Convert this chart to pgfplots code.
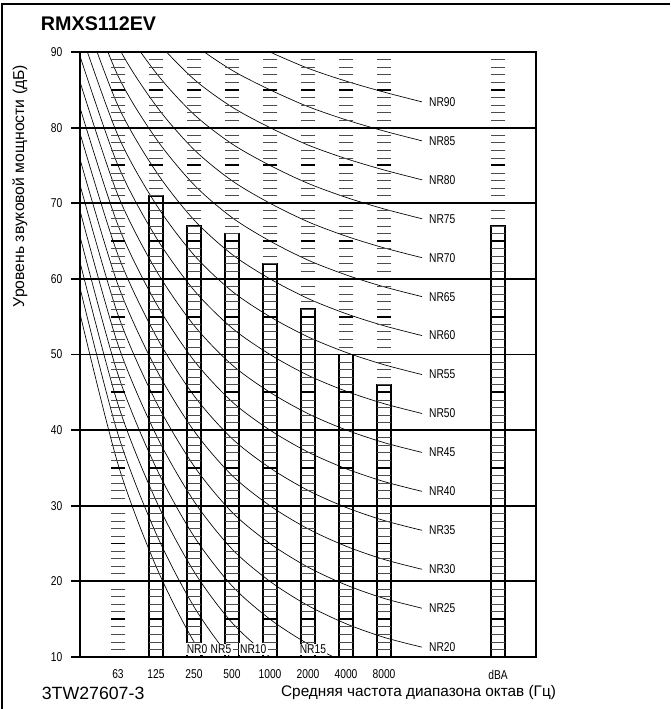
\documentclass[border=0pt]{standalone}
\usepackage{pgfplots}
\pgfplotsset{compat=1.18}
\usepackage{pgfplotstable}
\usepackage{fontspec}
\setmainfont{Liberation Sans}
\newfontfamily\condfont[FakeStretch=0.8]{Liberation Sans}

% ladder dashes (1 dB steps) and thick 5 dB dashes
\pgfplotstableread[row sep=\\]{
y\\11\\12\\13\\14\\16\\17\\18\\19\\21\\22\\23\\24\\26\\27\\28\\29\\31\\32\\33\\34\\36\\37\\38\\39\\
41\\42\\43\\44\\46\\47\\48\\49\\51\\52\\53\\54\\56\\57\\58\\59\\61\\62\\63\\64\\66\\67\\68\\69\\
71\\72\\73\\74\\76\\77\\78\\79\\81\\82\\83\\84\\86\\87\\88\\89\\
}\thinladder
\pgfplotstableread[row sep=\\]{
y\\15\\25\\35\\45\\55\\65\\75\\85\\
}\thickladder

\tikzset{
  nrlab/.style={font=\condfont\fontsize{9.6}{11}\selectfont, inner sep=1pt},
}
\pgfplotsset{
  nrcurve/.style={black, line width=0.5pt, smooth, tension=0.5, forget plot},
}

\begin{document}
\begin{tikzpicture}
\useasboundingbox (0,0) rectangle (502.5pt,531.75pt);
\draw[line width=1.9pt] (1.4pt,0) -- (1.4pt,528.9pt) -- (502.5pt,528.9pt);

\begin{axis}[
  at={(60pt,39pt)}, anchor=south west,
  scale only axis, width=342pt, height=453.75pt,
  xmin=-1, xmax=11, ymin=10, ymax=90,
  xtick={0,1,2,3,4,5,6,7,10},
  xticklabels={63,125,250,500,1000,2000,4000,8000,dBA},
  ytick={10,20,30,40,50,60,70,80,90},
  yticklabels={10,20,30,40,50,60,70,80,90},
  /pgf/number format/assume math mode=true,
  ymajorgrids, grid style={black, line width=1.4pt},
  axis line style={black, line width=1.5pt},
  tick align=outside, tick pos=left, major tick length=6.75pt,
  ytick style={black, line width=1.4pt},
  xtick style={draw=none},
  xticklabel style={font=\condfont\fontsize{9.6}{11}\selectfont, yshift=0.5pt},
  yticklabel style={font=\condfont\fontsize{9.6}{11}\selectfont, xshift=-3pt},
  clip=true,
]
% ladders
\pgfplotsinvokeforeach{0,1,2,3,4,5,6,7,10}{
  \addplot[only marks, mark=-, mark size=5.6pt, mark options={line width=0.55pt, black!70}, forget plot] table[x expr=#1, y=y] {\thinladder};
  \addplot[only marks, mark=-, mark size=5.6pt, mark options={line width=1.4pt, black}, forget plot] table[x expr=#1, y=y] {\thickladder};
}

% NR curves (31.5 Hz ... 16 kHz at -1 ... 8)
\addplot[nrcurve] coordinates {(-1,55.4)(0,35.5)(1,22.0)(2,12.0)(3,4.8)(4,0)(5,-3.5)(6,-6.1)(7,-8.0)(8,-9.3)};
\addplot[nrcurve] coordinates {(-1,58.8)(0,39.45)(1,26.35)(2,16.65)(3,9.67)(4,5)(5,1.58)(6,-0.98)(7,-2.85)(8,-4.15)};
\addplot[nrcurve] coordinates {(-1,62.21)(0,43.4)(1,30.7)(2,21.3)(3,14.54)(4,10)(5,6.65)(6,4.15)(7,2.3)(8,1.0)};
\addplot[nrcurve] coordinates {(-1,65.62)(0,47.35)(1,35.05)(2,25.95)(3,19.41)(4,15)(5,11.73)(6,9.28)(7,7.45)(8,6.15)};
\addplot[nrcurve] coordinates {(-1,69.02)(0,51.3)(1,39.4)(2,30.6)(3,24.28)(4,20)(5,16.8)(6,14.4)(7,12.6)(8,11.3)};
\addplot[nrcurve] coordinates {(-1,72.43)(0,55.25)(1,43.75)(2,35.25)(3,29.15)(4,25)(5,21.88)(6,19.53)(7,17.75)(8,16.45)};
\addplot[nrcurve] coordinates {(-1,75.83)(0,59.2)(1,48.1)(2,39.9)(3,34.02)(4,30)(5,26.95)(6,24.65)(7,22.9)(8,21.6)};
\addplot[nrcurve] coordinates {(-1,79.24)(0,63.15)(1,52.45)(2,44.55)(3,38.89)(4,35)(5,32.03)(6,29.78)(7,28.05)(8,26.75)};
\addplot[nrcurve] coordinates {(-1,82.64)(0,67.1)(1,56.8)(2,49.2)(3,43.76)(4,40)(5,37.1)(6,34.9)(7,33.2)(8,31.9)};
\addplot[nrcurve] coordinates {(-1,86.05)(0,71.05)(1,61.15)(2,53.85)(3,48.63)(4,45)(5,42.18)(6,40.03)(7,38.35)(8,37.05)};
\addplot[nrcurve] coordinates {(-1,89.45)(0,75.0)(1,65.5)(2,58.5)(3,53.5)(4,50)(5,47.25)(6,45.15)(7,43.5)(8,42.2)};
\addplot[nrcurve] coordinates {(-1,92.86)(0,78.95)(1,69.85)(2,63.15)(3,58.37)(4,55)(5,52.33)(6,50.28)(7,48.65)(8,47.35)};
\addplot[nrcurve] coordinates {(-1,96.26)(0,82.9)(1,74.2)(2,67.8)(3,63.24)(4,60)(5,57.4)(6,55.4)(7,53.8)(8,52.5)};
\addplot[nrcurve] coordinates {(-1,99.67)(0,86.85)(1,78.55)(2,72.45)(3,68.11)(4,65)(5,62.48)(6,60.53)(7,58.95)(8,57.65)};
\addplot[nrcurve] coordinates {(-1,103.07)(0,90.8)(1,82.9)(2,77.1)(3,72.98)(4,70)(5,67.55)(6,65.65)(7,64.1)(8,62.8)};
\addplot[nrcurve] coordinates {(-1,106.48)(0,94.75)(1,87.25)(2,81.75)(3,77.85)(4,75)(5,72.63)(6,70.78)(7,69.25)(8,67.95)};
\addplot[nrcurve] coordinates {(-1,109.88)(0,98.7)(1,91.6)(2,86.4)(3,82.72)(4,80)(5,77.7)(6,75.9)(7,74.4)(8,73.1)};
\addplot[nrcurve] coordinates {(-1,113.29)(0,102.65)(1,95.95)(2,91.05)(3,87.59)(4,85)(5,82.78)(6,81.03)(7,79.55)(8,78.25)};
\addplot[nrcurve] coordinates {(-1,116.69)(0,106.6)(1,100.3)(2,95.7)(3,92.46)(4,90)(5,87.85)(6,86.15)(7,84.7)(8,83.4)};

% sound power bars
\addplot[ybar, bar width=0.38, draw=black, line width=1.3pt, fill=none, forget plot]
  coordinates {(1,71) (2,67) (3,66) (4,62) (5,56) (6,50) (7,46) (10,67)};

% label anchors
\coordinate (e20) at (axis cs:8,11.3);
\coordinate (e25) at (axis cs:8,16.45);
\coordinate (e30) at (axis cs:8,21.6);
\coordinate (e35) at (axis cs:8,26.75);
\coordinate (e40) at (axis cs:8,31.9);
\coordinate (e45) at (axis cs:8,37.05);
\coordinate (e50) at (axis cs:8,42.2);
\coordinate (e55) at (axis cs:8,47.35);
\coordinate (e60) at (axis cs:8,52.5);
\coordinate (e65) at (axis cs:8,57.65);
\coordinate (e70) at (axis cs:8,62.8);
\coordinate (e75) at (axis cs:8,67.95);
\coordinate (e80) at (axis cs:8,73.1);
\coordinate (e85) at (axis cs:8,78.25);
\coordinate (e90) at (axis cs:8,83.4);
\coordinate (b0) at (axis cs:2.08,10);
\coordinate (b5) at (axis cs:2.71,10);
\coordinate (b10) at (axis cs:3.56,10);
\coordinate (b15) at (axis cs:5.13,10);
\end{axis}

\foreach \n in {20,25,...,90}{
  \node[nrlab, anchor=west, xshift=4.2pt] at (e\n) {NR\n};
}
\foreach \n in {0,5,10,15}{
  \node[nrlab, anchor=south, fill=white, yshift=1.2pt] at (b\n) {NR\n};
}

\node[anchor=base west, inner sep=0pt, font=\bfseries\fontsize{14.8}{16}\selectfont] at (30.5pt,509pt) {RMXS112EV};
\node[anchor=base west, inner sep=0pt, font=\fontsize{13.3}{15}\selectfont] at (31.2pt,6.75pt) {3TW27607-3};
\node[anchor=base, inner sep=0pt, font=\fontsize{11.5}{13}\selectfont] at (313.9pt,9.2pt) {Средняя частота диапазона октав (Гц)};
\node[anchor=center, rotate=90, inner sep=0pt, font=\fontsize{11.8}{13}\selectfont] at (15pt,392.25pt) {Уровень звуковой мощности (дБ)};
\end{tikzpicture}
\end{document}
